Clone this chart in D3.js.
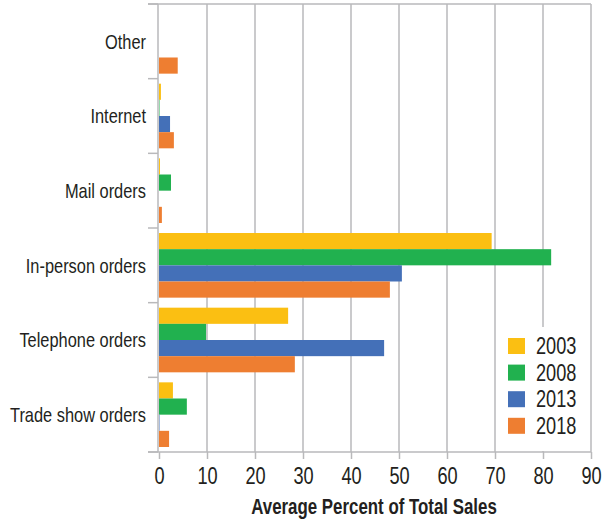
<!DOCTYPE html>
<html>
<head>
<meta charset="utf-8">
<script src="https://cdn.jsdelivr.net/npm/d3@7"></script>
<style>
  body { margin: 0; background: #fff; }
  text { font-family: "Liberation Sans", Arial, sans-serif; fill: #231f20; }
</style>
</head>
<body>
<script>
  var width = 608;
  var height = 522;

  // data (percent of total sales)
  var categories = ["Other", "Internet", "Mail orders", "In-person orders", "Telephone orders", "Trade show orders"];
  var years = ["2003", "2008", "2013", "2018"];
  var values2003 = [0, 0.4, 0.2, 69.3, 26.9, 2.9];
  var values2008 = [0, 0.1, 2.5, 81.7, 9.8, 5.8];
  var values2013 = [0, 2.3, 0, 50.6, 46.9, 0.1];
  var values2018 = [3.9, 3.1, 0.6, 48.1, 28.3, 2.1];
  var xTicks = [0, 10, 20, 30, 40, 50, 60, 70, 80, 90];
  var colors = ["#fbbf12", "#21b14f", "#4470b8", "#ee7e31"];

  var series = [values2003, values2008, values2013, values2018];

  var gridColor = "#b9b9bb";

  var svg = d3.select("body")
    .append("svg")
    .attr("width", width)
    .attr("height", height);

  var x = d3.scaleLinear()
    .domain([0, 90])
    .range([159, 591]);

  var y0 = d3.scaleBand()
    .domain(categories)
    .range([4, 452]);

  var y1 = d3.scaleBand()
    .domain(years)
    .range([0, y0.bandwidth()])
    .paddingOuter(0.31);

  // vertical grid lines
  svg.append("g")
    .selectAll("line")
    .data(xTicks.slice(1))
    .enter()
    .append("line")
    .attr("x1", function(d) { return x(d); })
    .attr("x2", function(d) { return x(d); })
    .attr("y1", 4)
    .attr("y2", 452)
    .style("stroke", gridColor)
    .style("stroke-width", 1.5);

  // top border
  svg.append("line")
    .attr("x1", 148).attr("x2", x(90))
    .attr("y1", 4).attr("y2", 4)
    .style("stroke", gridColor)
    .style("stroke-width", 1.5);

  // left axis line + category separators
  svg.append("line")
    .attr("x1", 158).attr("x2", 158)
    .attr("y1", 4).attr("y2", 452)
    .style("stroke", gridColor)
    .style("stroke-width", 1.5);

  var bounds = categories.map(function(c) { return y0(c); }).concat([452]);
  svg.append("g")
    .selectAll("line")
    .data(bounds)
    .enter()
    .append("line")
    .attr("x1", 148).attr("x2", 158)
    .attr("y1", function(d) { return d; })
    .attr("y2", function(d) { return d; })
    .style("stroke", gridColor)
    .style("stroke-width", 1.5);

  // bottom axis
  var xAxis = d3.axisBottom(x)
    .tickValues(xTicks)
    .tickSizeInner(7)
    .tickSizeOuter(0)
    .tickPadding(9)
    .tickFormat(d3.format("d"));

  var gx = svg.append("g")
    .attr("transform", "translate(0,452)")
    .call(xAxis);
  gx.select(".domain").remove();
  gx.append("line")
    .attr("x1", 148).attr("x2", x(90))
    .attr("y1", 0).attr("y2", 0)
    .style("stroke", gridColor)
    .style("stroke-width", 1.5);
  gx.selectAll(".tick line")
    .style("stroke", gridColor)
    .style("stroke-width", 1.5);
  gx.selectAll(".tick text")
    .attr("font-size", 23)
    .attr("font-family", null)
    .attr("fill", null)
    .attr("transform", "scale(0.79,1)");

  // bars
  var groups = svg.append("g")
    .selectAll("g")
    .data(categories)
    .enter()
    .append("g")
    .attr("transform", function(d) { return "translate(0," + y0(d) + ")"; });

  groups.selectAll("rect")
    .data(function(c, i) {
      return years.map(function(yr, k) { return { year: yr, value: series[k][i], color: colors[k] }; });
    })
    .enter()
    .append("rect")
    .attr("x", x(0))
    .attr("y", function(d) { return y1(d.year); })
    .attr("width", function(d) { return x(d.value) - x(0); })
    .attr("height", y1.bandwidth())
    .style("fill", function(d) { return d.color; });

  // category labels (narrow text)
  svg.append("g")
    .selectAll("g")
    .data(categories)
    .enter()
    .append("g")
    .attr("transform", function(d) { return "translate(146," + (y0(d) + y0.bandwidth() / 2) + ") scale(0.8,1)"; })
    .append("text")
    .attr("dy", "0.35em")
    .attr("text-anchor", "end")
    .attr("font-size", 20.5)
    .text(function(d) { return d; });

  // axis title
  svg.append("g")
    .attr("transform", "translate(374,514) scale(0.75,1)")
    .append("text")
    .attr("text-anchor", "middle")
    .attr("font-size", 22.5)
    .attr("font-weight", "bold")
    .text("Average Percent of Total Sales");

  // legend
  var key = svg.append("g");
  key.append("rect")
    .attr("x", x(70) + 1)
    .attr("y", 327)
    .attr("width", x(90) - x(70) - 2)
    .attr("height", 124)
    .style("fill", "#fff");

  var items = key.selectAll("g.item")
    .data(years)
    .enter()
    .append("g")
    .attr("class", "item")
    .attr("transform", function(d, i) { return "translate(508," + (346 + i * 26.6) + ")"; });

  items.append("rect")
    .attr("x", 0)
    .attr("y", -8)
    .attr("width", 17)
    .attr("height", 16)
    .style("fill", function(d, i) { return colors[i]; });

  items.append("g")
    .attr("transform", "translate(28,0) scale(0.79,1)")
    .append("text")
    .attr("dy", "0.36em")
    .attr("font-size", 23)
    .text(function(d) { return d; });
</script>
</body>
</html>
